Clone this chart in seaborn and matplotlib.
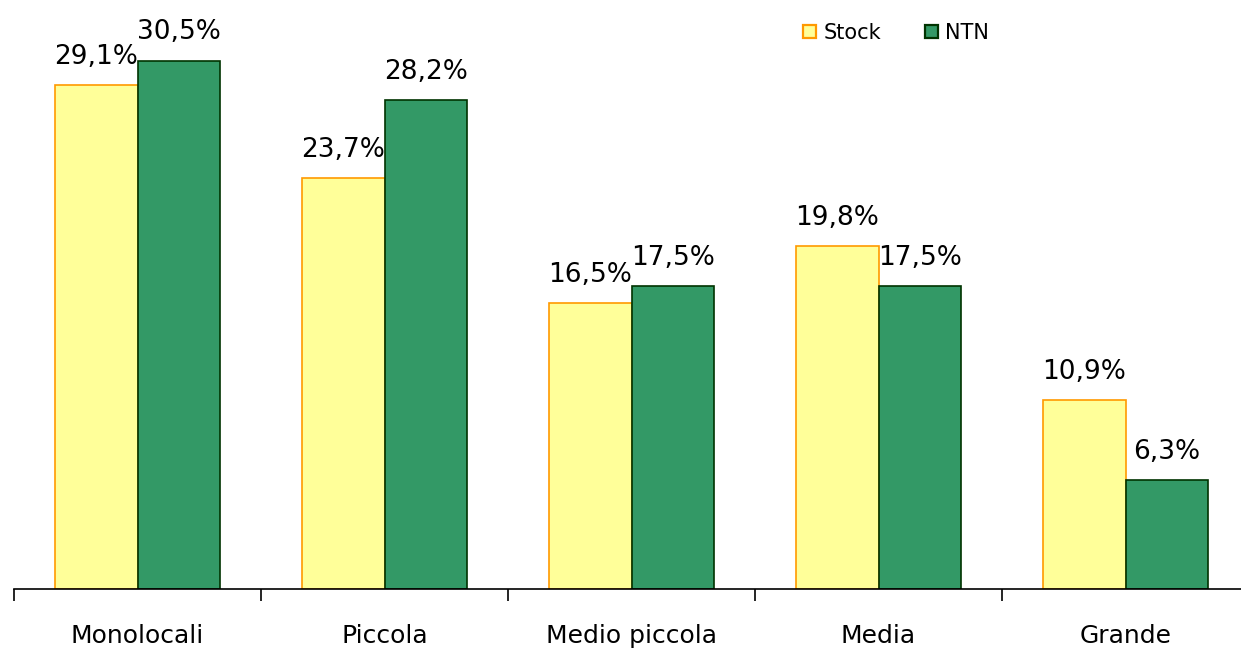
import matplotlib
matplotlib.use("Agg")
import matplotlib.pyplot as plt
from matplotlib.patches import Patch
import seaborn as sns
import pandas as pd

# Quote per taglio dimensionale
categories = ["Monolocali", "Piccola", "Medio piccola", "Media", "Grande"]
stock = [29.1, 23.7, 16.5, 19.8, 10.9]
ntn = [30.5, 28.2, 17.5, 17.5, 6.3]
series = ["Stock", "NTN"]

fill_colors = {"Stock": "#FFFF99", "NTN": "#339966"}
edge_colors = {"Stock": "#FF9900", "NTN": "#003300"}

df = pd.DataFrame({
    "categoria": categories * 2,
    "serie": ["Stock"] * len(categories) + ["NTN"] * len(categories),
    "quota": stock + ntn,
})

sns.set_theme(style="white")
plt.rcParams["font.family"] = ["DejaVu Sans"]
plt.rcParams["text.color"] = "black"
plt.rcParams["xtick.color"] = "black"

fig = plt.figure(figsize=(12.41, 6.48), dpi=100)
W, H = 1241, 648
ax = fig.add_axes([14 / W, 1 - 589 / H, 1235 / W, 589 / H])

sns.barplot(
    data=df, x="categoria", y="quota", hue="serie", order=categories,
    hue_order=series, palette=fill_colors, width=0.667, gap=0,
    errorbar=None, legend=False, ax=ax, saturation=1,
)

for cont, name in zip(ax.containers, series):
    for bar in cont:
        bar.set_edgecolor(edge_colors[name])
        bar.set_linewidth(1.2)
    ax.bar_label(
        cont, labels=[f"{v:.1f}%".replace(".", ",") for v in cont.datavalues],
        padding=11, fontsize=19, color="black",
    )

ax.set_xlim(-0.5, len(categories) - 0.5)
ax.set_ylim(0, 34)
ax.set_xlabel("")
ax.set_ylabel("")
ax.set_yticks([])

for side in ("top", "right", "left"):
    ax.spines[side].set_visible(False)
ax.spines["bottom"].set_color("black")
ax.spines["bottom"].set_linewidth(1.2)

ax.set_xticks(range(len(categories)))
ax.set_xticklabels(categories, fontsize=18, color="black")
ax.tick_params(axis="x", which="major", length=0, pad=25)
ax.set_xticks([i - 0.5 for i in range(len(categories) + 1)], minor=True)
ax.tick_params(axis="x", which="minor", length=8.5, width=1.2,
               direction="out", color="black", bottom=True)

handles = [Patch(facecolor=fill_colors[s], edgecolor=edge_colors[s],
                 linewidth=1.6, label=s) for s in series]
fig.legend(
    handles=handles, loc="center left",
    bbox_to_anchor=(803 / W, 1 - 33 / H), ncol=2, frameon=False,
    fontsize=15, handlelength=0.62, handleheight=0.62,
    handletextpad=0.35, columnspacing=2.1, borderpad=0, borderaxespad=0,
    labelcolor="black",
)

fig.savefig("out.png", dpi=100)
